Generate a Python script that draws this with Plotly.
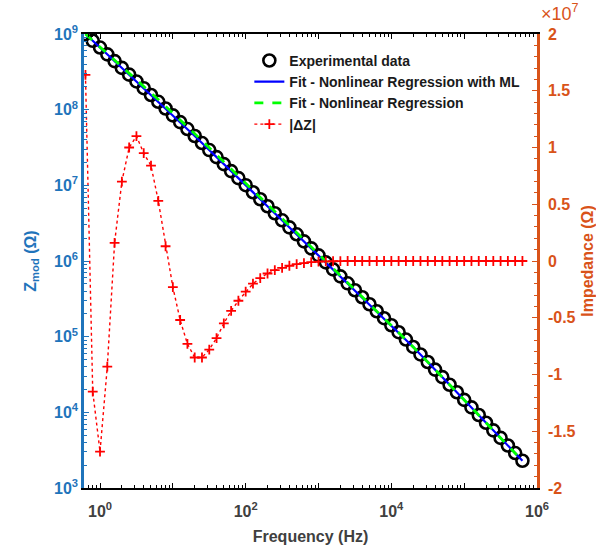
import plotly.graph_objects as go

# ---- data ----
freq_log10 = [-0.2, -0.1, 0.0, 0.1, 0.2, 0.3, 0.4, 0.5, 0.6, 0.7, 0.8, 0.9, 1.0, 1.1,
              1.2, 1.3, 1.4, 1.5, 1.6, 1.7, 1.8, 1.9, 2.0, 2.1, 2.2, 2.3, 2.4, 2.5, 2.6,
              2.7, 2.8, 2.9, 3.0, 3.1, 3.2, 3.3, 3.4, 3.5, 3.6, 3.7, 3.8, 3.9, 4.0, 4.1,
              4.2, 4.3, 4.4, 4.5, 4.6, 4.7, 4.8, 4.9, 5.0, 5.1, 5.2, 5.3, 5.4, 5.5, 5.6,
              5.7, 5.8]

z_exp_log10 = [9.000, 8.910, 8.821, 8.731, 8.642, 8.552, 8.463, 8.373, 8.284, 8.194,
               8.104, 8.015, 7.925, 7.836, 7.744, 7.652, 7.559, 7.466, 7.373, 7.280,
               7.188, 7.095, 7.002, 6.909, 6.816, 6.724, 6.631, 6.538, 6.445, 6.353,
               6.260, 6.167, 6.074, 5.982, 5.889, 5.797, 5.705, 5.613, 5.521, 5.428,
               5.336, 5.244, 5.151, 5.059, 4.962, 4.864, 4.765, 4.665, 4.565, 4.465,
               4.365, 4.265, 4.165, 4.065, 3.965, 3.862, 3.762, 3.662, 3.562, 3.462,
               3.360]

delta_z_e7 = [1.64, -1.15, -1.68, -0.93, 0.16, 0.70, 1.00, 1.10, 0.95, 0.84, 0.53, 0.13,
              -0.23, -0.52, -0.73, -0.85, -0.85, -0.78, -0.68, -0.55, -0.44, -0.35, -0.27,
              -0.20, -0.15, -0.11, -0.08, -0.06, -0.042, -0.028, -0.018, -0.010, -0.006,
              -0.003, -0.002, -0.001, 0, 0, 0, 0, 0, 0, 0, 0, 0, 0, 0, 0, 0, 0, 0, 0, 0,
              0, 0, 0, 0, 0, 0, 0, 0]

fit_freq_log10 = [-0.2, 0.3, 0.8, 1.3, 1.8, 2.3, 2.8, 3.3, 3.8, 4.3, 4.8, 5.3, 5.8]
fit_ml_log10 = [9.000, 8.552, 8.104, 7.652, 7.188, 6.724, 6.260, 5.797, 5.336, 4.864,
                4.365, 3.862, 3.360]
fit_nr_log10 = [9.000, 8.572, 8.134, 7.682, 7.218, 6.749, 6.280, 5.807, 5.341, 4.864,
                4.365, 3.862, 3.360]

x_tick_exps = [0, 1, 2, 3, 4, 5, 6]
y_tick_exps = [3, 4, 5, 6, 7, 8, 9]
y2_tick_vals = [2, 1.5, 1, 0.5, 0, -0.5, -1, -1.5, -2]
y2_tick_text = ["2", "1.5", "1", "0.5", "0", "-0.5", "-1", "-1.5", "-2"]

BLUE_AX = "#1f74bb"
ORANGE = "#D95319"
TXT = "#404040"
FONT = "Liberation Sans, Arial, sans-serif"

freq = [10 ** v for v in freq_log10]
z_exp = [10 ** v for v in z_exp_log10]
fit_freq = [10 ** v for v in fit_freq_log10]
fit_ml = [10 ** v for v in fit_ml_log10]
fit_nr = [10 ** v for v in fit_nr_log10]
dz = [v * 1e7 for v in delta_z_e7]

# minor tick positions for the log axes (2..9 x 10^n)
x_minor = [m * 10 ** e for e in range(-1, 6) for m in range(2, 10)]
y_minor = [m * 10 ** e for e in range(3, 9) for m in range(2, 10)]

fig = go.Figure()
fig.add_trace(go.Scatter(x=freq, y=z_exp, mode="markers", name="Experimental data",
                         marker=dict(symbol="circle-open", size=12, color="black",
                                     line=dict(width=2.6, color="black"))))
fig.add_trace(go.Scatter(x=fit_freq, y=fit_ml, mode="lines",
                         name="Fit - Nonlinear Regression with ML",
                         line=dict(color="#0000FF", width=2.2)))
fig.add_trace(go.Scatter(x=fit_freq, y=fit_nr, mode="lines",
                         name="Fit - Nonlinear Regression",
                         line=dict(color="#00FF00", width=2.8, dash="dash")))
fig.add_trace(go.Scatter(x=freq, y=dz, mode="lines+markers", name="|ΔZ|", yaxis="y2",
                         line=dict(color="#FF0000", width=1.4, dash="dot"),
                         marker=dict(symbol="cross-thin", size=7,
                                     line=dict(width=1.8, color="#FF0000"), color="#FF0000")))
# empty helper traces so the minor-tick overlay axes get drawn
fig.add_trace(go.Scatter(x=[None], y=[None], xaxis="x2", yaxis="y3", showlegend=False,
                         hoverinfo="skip", mode="markers"))
fig.add_trace(go.Scatter(x=[None], y=[None], xaxis="x", yaxis="y4", showlegend=False,
                         hoverinfo="skip", mode="markers"))

x_ticktext = [("<b>10<sup>%d</sup></b>" % e) if e % 2 == 0 else "" for e in x_tick_exps]
y_ticktext = ["<b>10<sup>%d</sup></b>" % e for e in y_tick_exps]

fig.update_layout(
    width=596, height=548,
    margin=dict(l=84, r=59, t=34, b=60, autoexpand=False),
    paper_bgcolor="white", plot_bgcolor="white",
    font=dict(family=FONT, size=14, color=TXT),
    showlegend=True,
    legend=dict(x=0.365, y=0.976, xanchor="left", yanchor="top",
                bgcolor="rgba(0,0,0,0)", borderwidth=0,
                font=dict(family=FONT, size=14, color="#1a1a1a", weight="bold"),
                tracegroupgap=0, itemwidth=30),
    xaxis=dict(type="log", range=[-0.22, 6.0],
               tickvals=[10 ** e for e in x_tick_exps], ticktext=x_ticktext,
               ticks="inside", ticklen=5, tickwidth=1.2, tickcolor="black",
               showline=True, linecolor="black", linewidth=1.5, mirror="ticks",
               showgrid=False, zeroline=False, ticklabelstandoff=8,
               tickfont=dict(family=FONT, size=16, color=TXT),
               title=dict(text="<b>Frequency (Hz)</b>", standoff=12,
                          font=dict(family=FONT, size=16, color=TXT))),
    xaxis2=dict(type="log", range=[-0.22, 6.0], overlaying="x", anchor="y", side="bottom",
                tickmode="array", tickvals=x_minor, showticklabels=False,
                ticks="inside", ticklen=3, tickwidth=1, tickcolor="black",
                showline=False, mirror="ticks", showgrid=False, zeroline=False),
    yaxis=dict(type="log", range=[3, 9],
               tickvals=[10 ** e for e in y_tick_exps], ticktext=y_ticktext,
               ticks="inside", ticklen=5, tickwidth=1.2, tickcolor=BLUE_AX,
               showline=True, linecolor=BLUE_AX, linewidth=2.5,
               showgrid=False, zeroline=False,
               tickfont=dict(family=FONT, size=16, color=BLUE_AX),
               title=dict(text="<b>Z<sub>mod</sub> (Ω)</b>", standoff=14,
                          font=dict(family=FONT, size=16, color=BLUE_AX))),
    yaxis3=dict(type="log", range=[3, 9], overlaying="y", anchor="x2", side="left",
                tickmode="array", tickvals=y_minor, showticklabels=False,
                ticks="inside", ticklen=3, tickwidth=1, tickcolor=BLUE_AX,
                showline=False, showgrid=False, zeroline=False),
    yaxis2=dict(overlaying="y", side="right", range=[-2e7, 2e7],
                tickvals=[v * 1e7 for v in y2_tick_vals],
                ticktext=["<b>%s</b>" % t for t in y2_tick_text],
                ticks="inside", ticklen=5, tickwidth=1.2, tickcolor=ORANGE,
                showline=True, linecolor=ORANGE, linewidth=2.5,
                showgrid=False, zeroline=False, ticklabelstandoff=5,
                tickfont=dict(family=FONT, size=16, color=ORANGE),
                title=dict(text="<b>Impedance (Ω)</b>", standoff=8,
                           font=dict(family=FONT, size=16, color=ORANGE))),
    yaxis4=dict(overlaying="y", side="right", range=[-2e7, 2e7],
                tickmode="linear", tick0=0, dtick=1e6, showticklabels=False,
                ticks="inside", ticklen=3, tickwidth=1, tickcolor=ORANGE,
                showline=False, showgrid=False, zeroline=False),
    annotations=[dict(text="×10<sup>7</sup>", xref="paper", yref="paper",
                      x=1.005, y=1.048, xanchor="left", yanchor="middle",
                      showarrow=False, font=dict(family=FONT, size=18, color=ORANGE))],
)

fig.write_html("out.html")
